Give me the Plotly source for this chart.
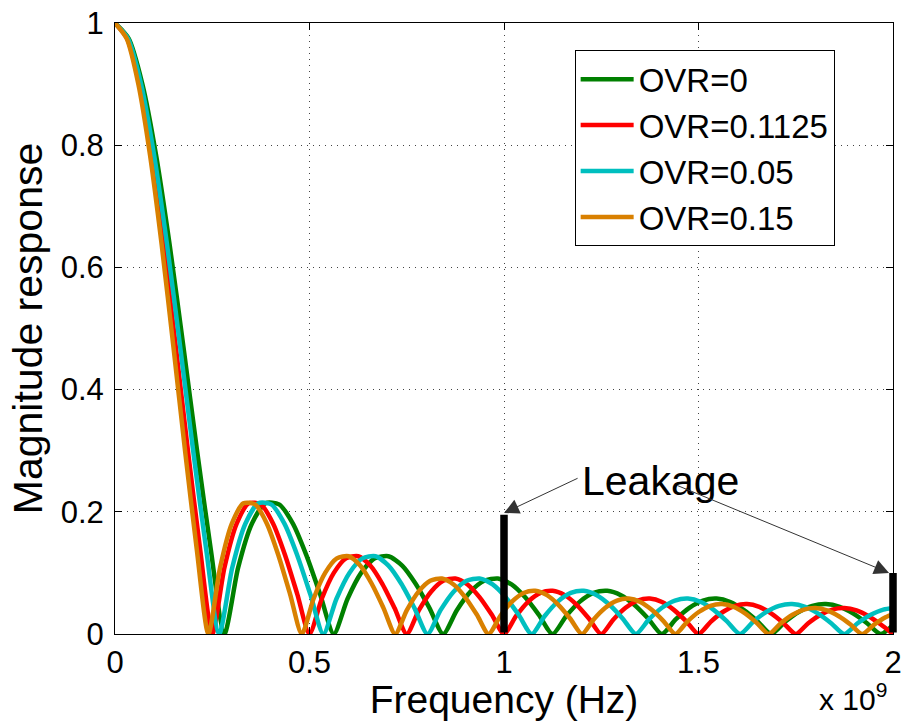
import plotly.graph_objects as go

# ---------------- data (frequency in units of 1e9 Hz) ----------------
freq_ovr0 = [0, 0.0352, 0.0703, 0.1055, 0.1406, 0.1758, 0.2109, 0.2461,
             0.2812, 0.3164, 0.3515, 0.3867, 0.4218, 0.4570, 0.4921, 0.5273,
             0.5624, 0.5976, 0.6327, 0.6679, 0.7030, 0.7382, 0.7733, 0.8085,
             0.8436, 0.8788, 0.9139, 0.9491, 0.9842, 1.0194, 1.0545, 1.0897,
             1.1248, 1.1600, 1.1951, 1.2303, 1.2654, 1.3006, 1.3357, 1.3709,
             1.4060, 1.4412, 1.4763, 1.5115, 1.5466, 1.5818, 1.6169, 1.6521,
             1.6872, 1.7224, 1.7575, 1.7927, 1.8278, 1.8630, 1.8981, 1.9333,
             1.9684, 2.0036]
mag_ovr0 = [1.0, 0.9745, 0.9003, 0.7842, 0.6366, 0.4705, 0.3001, 0.1392,
            0.0, 0.1083, 0.1801, 0.2139, 0.2122, 0.1810, 0.1286, 0.0650,
            0.0, 0.0573, 0.1000, 0.1238, 0.1273, 0.1120, 0.0818, 0.0424,
            0.0, 0.0390, 0.0693, 0.0871, 0.0909, 0.0811, 0.0600, 0.0314,
            0.0, 0.0295, 0.0530, 0.0672, 0.0707, 0.0636, 0.0474, 0.0250,
            0.0, 0.0238, 0.0429, 0.0547, 0.0579, 0.0523, 0.0391, 0.0207,
            0.0, 0.0199, 0.0360, 0.0461, 0.0490, 0.0444, 0.0333, 0.0177,
            0.0, 0.0171]

freq_ovr01125 = [0, 0.03125, 0.0625, 0.09375, 0.125, 0.15625, 0.1875, 0.21875,
                 0.25, 0.28125, 0.3125, 0.34375, 0.375, 0.40625, 0.4375, 0.46875,
                 0.5, 0.53125, 0.5625, 0.59375, 0.625, 0.65625, 0.6875, 0.71875,
                 0.75, 0.78125, 0.8125, 0.84375, 0.875, 0.90625, 0.9375, 0.96875,
                 1.0, 1.03125, 1.0625, 1.09375, 1.125, 1.15625, 1.1875, 1.21875,
                 1.25, 1.28125, 1.3125, 1.34375, 1.375, 1.40625, 1.4375, 1.46875,
                 1.5, 1.53125, 1.5625, 1.59375, 1.625, 1.65625, 1.6875, 1.71875,
                 1.75, 1.78125, 1.8125, 1.84375, 1.875, 1.90625, 1.9375, 1.96875,
                 2.0]
mag_ovr01125 = [1.0, 0.9745, 0.9003, 0.7842, 0.6366, 0.4705, 0.3001, 0.1392,
                0.0, 0.1083, 0.1801, 0.2139, 0.2122, 0.1810, 0.1286, 0.0650,
                0.0, 0.0573, 0.1000, 0.1238, 0.1273, 0.1120, 0.0818, 0.0424,
                0.0, 0.0390, 0.0693, 0.0871, 0.0909, 0.0811, 0.0600, 0.0314,
                0.0, 0.0295, 0.0530, 0.0672, 0.0707, 0.0636, 0.0474, 0.0250,
                0.0, 0.0238, 0.0429, 0.0547, 0.0579, 0.0523, 0.0391, 0.0207,
                0.0, 0.0199, 0.0360, 0.0461, 0.0490, 0.0444, 0.0333, 0.0177,
                0.0, 0.0171, 0.0310, 0.0399, 0.0424, 0.0386, 0.0290, 0.0155,
                0.0]

freq_ovr005 = [0, 0.0335, 0.0670, 0.1004, 0.1339, 0.1674, 0.2009, 0.2343,
               0.2678, 0.3013, 0.3348, 0.3682, 0.4017, 0.4352, 0.4687, 0.5021,
               0.5356, 0.5691, 0.6026, 0.6360, 0.6695, 0.7030, 0.7365, 0.7699,
               0.8034, 0.8369, 0.8704, 0.9038, 0.9373, 0.9708, 1.0043, 1.0377,
               1.0712, 1.1047, 1.1382, 1.1716, 1.2051, 1.2386, 1.2721, 1.3055,
               1.3390, 1.3725, 1.4060, 1.4394, 1.4729, 1.5064, 1.5399, 1.5733,
               1.6068, 1.6403, 1.6738, 1.7072, 1.7407, 1.7742, 1.8077, 1.8411,
               1.8746, 1.9081, 1.9416, 1.9750, 2.0085]
mag_ovr005 = [1.0, 0.9745, 0.9003, 0.7842, 0.6366, 0.4705, 0.3001, 0.1392,
              0.0, 0.1083, 0.1801, 0.2139, 0.2122, 0.1810, 0.1286, 0.0650,
              0.0, 0.0573, 0.1000, 0.1238, 0.1273, 0.1120, 0.0818, 0.0424,
              0.0, 0.0390, 0.0693, 0.0871, 0.0909, 0.0811, 0.0600, 0.0314,
              0.0, 0.0295, 0.0530, 0.0672, 0.0707, 0.0636, 0.0474, 0.0250,
              0.0, 0.0238, 0.0429, 0.0547, 0.0579, 0.0523, 0.0391, 0.0207,
              0.0, 0.0199, 0.0360, 0.0461, 0.0490, 0.0444, 0.0333, 0.0177,
              0.0, 0.0171, 0.0310, 0.0399, 0.0424]

freq_ovr015 = [0, 0.0300, 0.0600, 0.0900, 0.1201, 0.1501, 0.1801, 0.2101,
               0.2401, 0.2701, 0.3001, 0.3301, 0.3602, 0.3902, 0.4202, 0.4502,
               0.4802, 0.5102, 0.5402, 0.5702, 0.6003, 0.6303, 0.6603, 0.6903,
               0.7203, 0.7503, 0.7803, 0.8103, 0.8404, 0.8704, 0.9004, 0.9304,
               0.9604, 0.9904, 1.0204, 1.0504, 1.0805, 1.1105, 1.1405, 1.1705,
               1.2005, 1.2305, 1.2605, 1.2905, 1.3206, 1.3506, 1.3806, 1.4106,
               1.4406, 1.4706, 1.5006, 1.5306, 1.5607, 1.5907, 1.6207, 1.6507,
               1.6807, 1.7107, 1.7407, 1.7707, 1.8008, 1.8308, 1.8608, 1.8908,
               1.9208, 1.9508, 1.9808, 2.0108]
mag_ovr015 = [1.0, 0.9745, 0.9003, 0.7842, 0.6366, 0.4705, 0.3001, 0.1392,
              0.0, 0.1083, 0.1801, 0.2139, 0.2122, 0.1810, 0.1286, 0.0650,
              0.0, 0.0573, 0.1000, 0.1238, 0.1273, 0.1120, 0.0818, 0.0424,
              0.0, 0.0390, 0.0693, 0.0871, 0.0909, 0.0811, 0.0600, 0.0314,
              0.0, 0.0295, 0.0530, 0.0672, 0.0707, 0.0636, 0.0474, 0.0250,
              0.0, 0.0238, 0.0429, 0.0547, 0.0579, 0.0523, 0.0391, 0.0207,
              0.0, 0.0199, 0.0360, 0.0461, 0.0490, 0.0444, 0.0333, 0.0177,
              0.0, 0.0171, 0.0310, 0.0399, 0.0424, 0.0386, 0.0290, 0.0155,
              0.0, 0.0150, 0.0273, 0.0351]

series_names = ["OVR=0", "OVR=0.1125", "OVR=0.05", "OVR=0.15"]
series_colors = ["#008000", "#ff0000", "#00bfbf", "#d98000"]

# leakage markers (frequency, height)
leak_freq = [1.0, 2.0]
leak_level = [0.195, 0.1]
leak_label = "Leakage"
leak_label_pos = (1.402, 0.251)
leak_arrow_tails = [(1.193, 0.256), (1.442, 0.244)]
leak_arrow_heads = [(1.0, 0.198), (1.99, 0.100)]

xtick_vals = [0, 0.5, 1, 1.5, 2]
xtick_text = ["0", "0.5", "1", "1.5", "2"]
ytick_vals = [0, 0.2, 0.4, 0.6, 0.8, 1]
ytick_text = ["0", "0.2", "0.4", "0.6", "0.8", "1"]

# ---------------- figure ----------------
fig = go.Figure()
xs = [freq_ovr0, freq_ovr01125, freq_ovr005, freq_ovr015]
ys = [mag_ovr0, mag_ovr01125, mag_ovr005, mag_ovr015]
for x, y, name, color in zip(xs, ys, series_names, series_colors):
    fig.add_trace(go.Scatter(x=x, y=y, mode="lines", name=name,
                             line=dict(color=color, width=4.5,
                                       shape="spline", smoothing=0.7)))

# thick black leakage bars (arrow-less annotation lines so they are not clipped)
for f, lvl in zip(leak_freq, leak_level):
    fig.add_annotation(x=f, y=lvl, ax=f, ay=0, xref="x", yref="y",
                       axref="x", ayref="y", text="", showarrow=True,
                       arrowhead=0, arrowwidth=7.5, arrowcolor="black",
                       standoff=0, startstandoff=0)

fig.add_annotation(x=leak_label_pos[0], y=leak_label_pos[1], xref="x", yref="y",
                   text=leak_label, showarrow=False,
                   font=dict(size=41, color="black"))
for (tx, ty), (hx, hy) in zip(leak_arrow_tails, leak_arrow_heads):
    fig.add_annotation(x=hx, y=hy, ax=tx, ay=ty, xref="x", yref="y",
                       axref="x", ayref="y", text="", showarrow=True,
                       arrowhead=2, arrowsize=3, arrowwidth=1,
                       arrowcolor="#333333", standoff=0, startstandoff=0)

fig.add_annotation(x=0.995, y=-0.138, xref="paper", yref="paper",
                   xanchor="right", yanchor="bottom", showarrow=False,
                   text="x 10<sup>9</sup>", font=dict(size=30, color="black"))

axis_common = dict(
    showline=True, linecolor="black", linewidth=1, mirror="ticks",
    ticks="inside", ticklen=7, tickcolor="black", tickwidth=1,
    showgrid=True, gridcolor="#444444", gridwidth=1, griddash="1px,5px",
    zeroline=False, automargin=False, ticklabeloverflow="allow",
    tickfont=dict(size=31, color="black"),
)

fig.update_layout(
    width=902, height=721,
    margin=dict(l=115, r=9, t=23, b=87),
    paper_bgcolor="white", plot_bgcolor="white",
    font=dict(family="Liberation Sans, Arial, sans-serif", color="black", size=30),
    xaxis=dict(range=[0, 2], tickvals=xtick_vals, ticktext=xtick_text,
               ticklabelstandoff=1,
               title=dict(text="Frequency (Hz)", font=dict(size=39), standoff=5),
               **axis_common),
    yaxis=dict(range=[0, 1], tickvals=ytick_vals, ticktext=ytick_text,
               ticklabelstandoff=4,
               title=dict(text="Magnitude response", font=dict(size=41), standoff=5),
               **axis_common),
    legend=dict(x=0.925, y=0.9554, xanchor="right", yanchor="top",
                bordercolor="black", borderwidth=1, bgcolor="white",
                font=dict(size=33, color="black"), itemwidth=53,
                tracegroupgap=0),
    showlegend=True,
)

fig.write_html("out.html")
